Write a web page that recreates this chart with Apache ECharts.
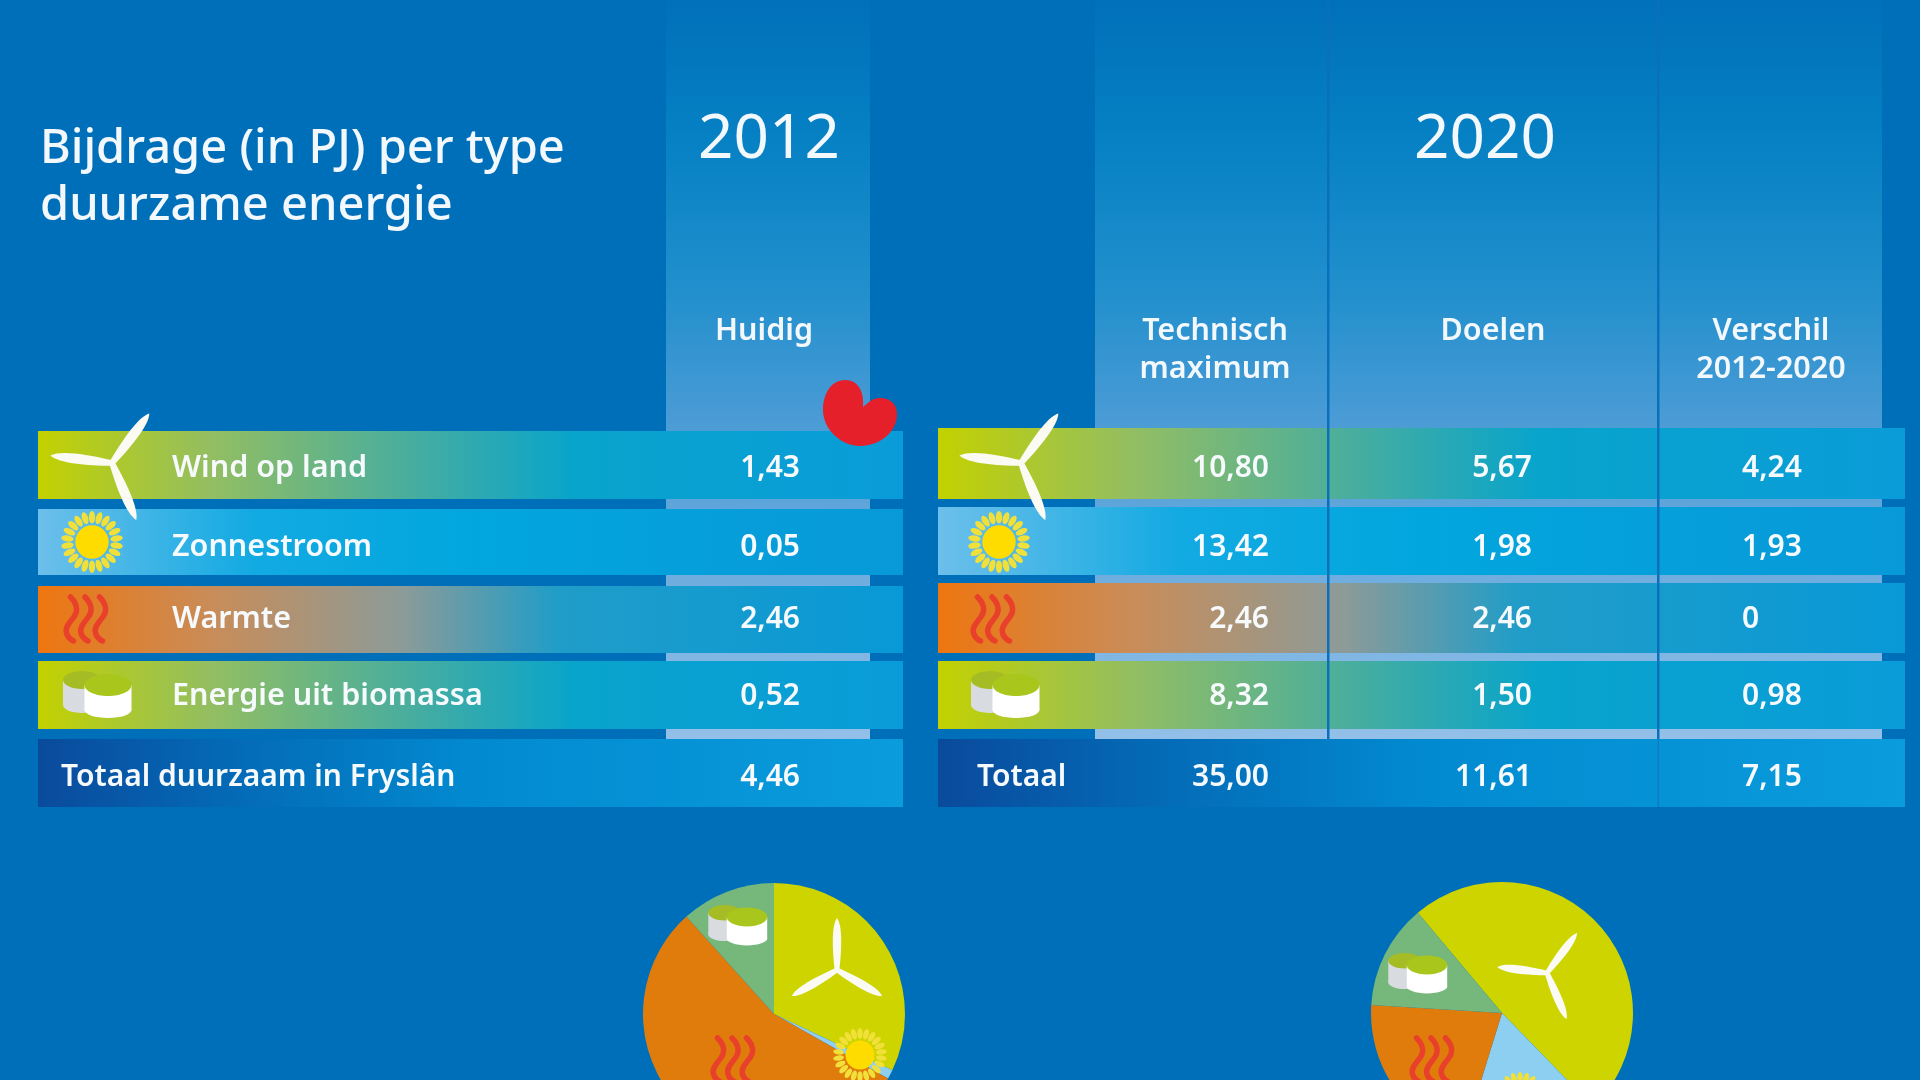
<!DOCTYPE html>
<html lang="nl">

<head>
    <meta charset="UTF-8" />
    <title>Bijdrage (in PJ) per type duurzame energie</title>
    <script src="https://cdn.jsdelivr.net/npm/echarts@6/dist/echarts.min.js"></script>
    <style>
        html, body { margin: 0; padding: 0; background: #006fba; }
        #chart { width: 1920px; height: 1080px; }
    </style>
</head>

<body>
    <div id="chart"></div>
    <script>
        // data
        var rowNames = ["Wind op land", "Zonnestroom", "Warmte", "Energie uit biomassa", "Totaal"];
        var pieNames = ["Wind op land", "Zonnestroom", "Warmte", "Energie uit biomassa"];
        var huidig = [1.43, 0.05, 2.46, 0.52, 4.46];
        var technisch = [10.80, 13.42, 2.46, 8.32, 35.00];
        var doelen = [5.67, 1.98, 2.46, 1.50, 11.61];
        var verschil = [4.24, 1.93, 0, 0.98, 7.15];
        var pieColors = ["#cdd400", "#8dcff0", "#e07c0c", "#76b87c"];

        // layout (pixels on the 1920x1080 page)
        var rowTopL = [431, 509, 586, 661, 739];
        var rowTopR = [428, 507, 583, 661, 739];
        var rowBottom = [499, 575, 653, 729, 807];
        var rowNudge = [3, 5, 0, 0, 4];
        var font = '"Noto Sans", sans-serif';

        var rowGradients = [
            [[0, "#c3d100"], [0.2, "#93be62"], [0.42, "#4bae9c"], [0.62, "#08a4cc"], [1, "#0a9cd9"]],
            [[0, "#6cbfea"], [0.25, "#12aae2"], [0.5, "#02a6de"], [1, "#0899d8"]],
            [[0, "#ee7610"], [0.2, "#c98c58"], [0.42, "#8c9b98"], [0.6, "#209dc8"], [1, "#0899d7"]],
            [[0, "#c3d100"], [0.2, "#93be62"], [0.42, "#4bae9c"], [0.62, "#08a4cc"], [1, "#0a9cd9"]],
            [[0, "#0a4a9c"], [0.2, "#0467b4"], [0.5, "#028ad0"], [1, "#0a9cdc"]]
        ];

        function hGradient(stops) {
            return {
                type: "linear", x: 0, y: 0, x2: 1, y2: 0,
                colorStops: stops.map(function (s) { return { offset: s[0], color: s[1] }; })
            };
        }

        var panelFill = {
            type: "linear", x: 0, y: 0, x2: 0, y2: 1,
            colorStops: [
                { offset: 0, color: "#0070ba" },
                { offset: 0.19, color: "#0681c4" },
                { offset: 0.4, color: "#2290cd" },
                { offset: 0.58, color: "#4d9cd6" },
                { offset: 1, color: "#93c0e8" }
            ]
        };

        var g = [];     // graphic component elements
        var paths = []; // free shapes, only a custom series can draw these

        function rect(x, y, w, h, fill, z) {
            g.push({ type: "rect", silent: true, z: z, shape: { x: x, y: y, width: w, height: h }, style: { fill: fill } });
        }

        function text(x, y, str, size, weight, align) {
            g.push({
                type: "text", silent: true, z: 20, x: x, y: y,
                style: {
                    text: str, fill: "#f2f8fc", font: weight + " " + size + "px " + font,
                    textAlign: align || "center", textVerticalAlign: "middle"
                }
            });
        }

        function ellipse(cx, cy, rx, ry, fill, z, rot) {
            g.push({
                type: "ellipse", silent: true, z: z, x: cx, y: cy, rotation: rot || 0,
                shape: { cx: 0, cy: 0, rx: rx, ry: ry }, style: { fill: fill }
            });
        }

        // wind turbine, rot in degrees clockwise from straight up
        function turbine(cx, cy, len, rot) {
            [0, 120, 240].forEach(function (a) {
                var w = len * 0.1;
                paths.push({
                    type: "path", x: cx, y: cy,
                    rotation: -(rot + a) * Math.PI / 180,
                    shape: {
                        pathData: "M " + (-w * 0.45) + " 0 C " + (-w * 0.9) + " " + (-len * 0.4) + " " + (-w * 1.1) + " " + (-len * 0.85) +
                            " 0 " + (-len) + " C " + (w * 1.1) + " " + (-len * 0.85) + " " + (w * 0.9) + " " + (-len * 0.4) + " " + (w * 0.45) + " 0 Z"
                    },
                    style: { fill: "#fbfbf4" }
                });
            });
        }

        function sun(cx, cy, r) {
            var n = 22;
            for (var i = 0; i < n; i++) {
                var t = i / n * Math.PI * 2;
                ellipse(cx + Math.sin(t) * r * 0.8, cy - Math.cos(t) * r * 0.8, r * 0.1, r * 0.2, "#f2e03a", 15, -t);
            }
            ellipse(cx, cy, r * 0.54, r * 0.54, "#ffdc00", 15);
        }

        function heat(cx, cy, s) {
            [-14.5, 0, 14.5].forEach(function (dx) {
                paths.push({
                    type: "path", x: cx + dx * s, y: cy, scaleX: s, scaleY: s,
                    shape: { pathData: "M -1 -22 C 5 -16 7 -9 3 -3 C -1 3 -7 8 -5 14 C -4 18 -2 20 2 22" },
                    style: { fill: "none", stroke: "#e8402a", lineWidth: 5.5, lineCap: "round" }
                });
            });
        }

        // cx, cy: centre of the top of the front bale
        function bales(cx, cy, s) {
            ellipse(cx - 26 * s, cy + 20 * s, 19 * s, 8 * s, "#d8dce0", 15);
            rect(cx - 45 * s, cy - 5 * s, 38 * s, 25 * s, "#d8dce0", 15);
            ellipse(cx - 26 * s, cy - 5 * s, 19 * s, 9 * s, "#a6bc24", 15);
            ellipse(cx, cy + 25 * s, 23.5 * s, 8 * s, "#ffffff", 16);
            rect(cx - 23.5 * s, cy, 47 * s, 25 * s, "#ffffff", 16);
            ellipse(cx, cy, 23.5 * s, 11 * s, "#a8c61c", 16);
        }

        // column panels
        rect(666, 0, 204, 739, panelFill, 1);
        rect(1095, 0, 787, 739, panelFill, 1);

        // row bands
        rowGradients.forEach(function (stops, i) {
            var fill = hGradient(stops);
            rect(38, rowTopL[i], 865, rowBottom[i] - rowTopL[i], fill, 2);
            rect(938, rowTopR[i], 967, rowBottom[i] - rowTopR[i], fill, 2);
        });

        // column separators
        [1328, 1658].forEach(function (x) {
            rect(x - 1, 0, 2.5, 739, "#0a70bc", 3);
            rect(x - 0.5, 739, 1.5, 68, "#0b7cc4", 3);
        });

        // red leaf
        paths.push({
            type: "path",
            shape: {
                pathData: "M 863 407 C 864 398 862 380 845 380 C 831 380 823 394 823 410 C 823 430 842 446 860 446 " +
                    "C 880 446 897 432 897 414 C 897 404 890 398 880 398 C 872 398 868 403 863 407 Z"
            },
            style: { fill: "#e5202a" }
        });

        // icons in the rows
        turbine(112, 463, 62, 37);
        sun(92, 542, 31);
        heat(86, 619, 1);
        bales(108, 685, 1);

        turbine(1021, 463, 62, 37);
        sun(999, 542, 31);
        heat(993, 619, 1);
        bales(1016, 685, 1);

        // icons in the pies
        turbine(837, 970, 52, 0);
        sun(860, 1055, 27);
        heat(733, 1060, 1);
        bales(747, 917, 0.86);

        turbine(1547, 973, 50, 37);
        sun(1520, 1099, 27);
        heat(1432, 1060, 1);
        bales(1427, 965, 0.86);

        // titles and column heads
        text(40, 150, "Bijdrage (in PJ) per type", 47, 500, "left");
        text(40, 207, "duurzame energie", 47, 500, "left");
        text(769, 140, "2012", 62, 400);
        text(1485, 140, "2020", 62, 400);
        text(764, 331, "Huidig", 30.5, 600);
        text(1215, 331, "Technisch", 30.5, 600);
        text(1215, 369, "maximum", 30.5, 600);
        text(1493, 331, "Doelen", 30.5, 600);
        text(1771, 331, "Verschil", 30.5, 600);
        text(1771, 369, "2012-2020", 30.5, 600);

        function fmt(v) {
            return v === 0 ? "0" : v.toFixed(2).replace(".", ",");
        }

        // one column of table text, on the row axis
        function column(x, labels, align, size) {
            return {
                type: "scatter",
                silent: true,
                symbolSize: 1,
                itemStyle: { color: "transparent", opacity: 1 },
                z: 20,
                data: labels.map(function (s, i) {
                    return {
                        value: [x, rowNames[i]],
                        label: { formatter: s, offset: [0, rowNudge[i]] }
                    };
                }).filter(function (d) { return d.label.formatter !== ""; }),
                label: {
                    show: true, position: "inside", align: align, verticalAlign: "middle",
                    color: "#f6fafd", fontFamily: font, fontSize: size, fontWeight: 600, opacity: 1
                }
            };
        }

        function pie(center, start, values) {
            return {
                type: "pie",
                silent: true,
                center: center,
                radius: 131,
                startAngle: start,
                clockwise: true,
                label: { show: false },
                labelLine: { show: false },
                z: 2,
                data: values.slice(0, 4).map(function (v, i) {
                    return { name: pieNames[i], value: v, itemStyle: { color: pieColors[i] } };
                })
            };
        }

        var myChart = echarts.init(document.getElementById("chart"));
        var option = {
            backgroundColor: "#006fba",
            animation: false,
            grid: { left: 0, width: 1920, top: 427, height: 385 },
            xAxis: { type: "value", min: 0, max: 1920, show: false },
            yAxis: { type: "category", inverse: true, data: rowNames, show: false },
            graphic: { elements: g },
            series: [
                column(172, rowNames.slice(0, 4).concat([""]), "left", 30.5),
                column(61, ["", "", "", "", "Totaal duurzaam in Fryslân"], "left", 30),
                column(977, ["", "", "", "", "Totaal"], "left", 30),
                column(800, huidig.map(fmt), "right", 30),
                column(1269, technisch.map(fmt), "right", 30),
                column(1532, doelen.map(fmt), "right", 30),
                column(1742, verschil.map(fmt), "left", 30),
                pie([774, 1014], 90, huidig),
                pie([1502, 1013], 130, doelen),
                {
                    type: "custom",
                    coordinateSystem: "none",
                    silent: true,
                    z: 15,
                    data: [0],
                    renderItem: function () {
                        return { type: "group", children: paths };
                    }
                }
            ]
        };
        myChart.setOption(option);
    </script>
</body>

</html>
